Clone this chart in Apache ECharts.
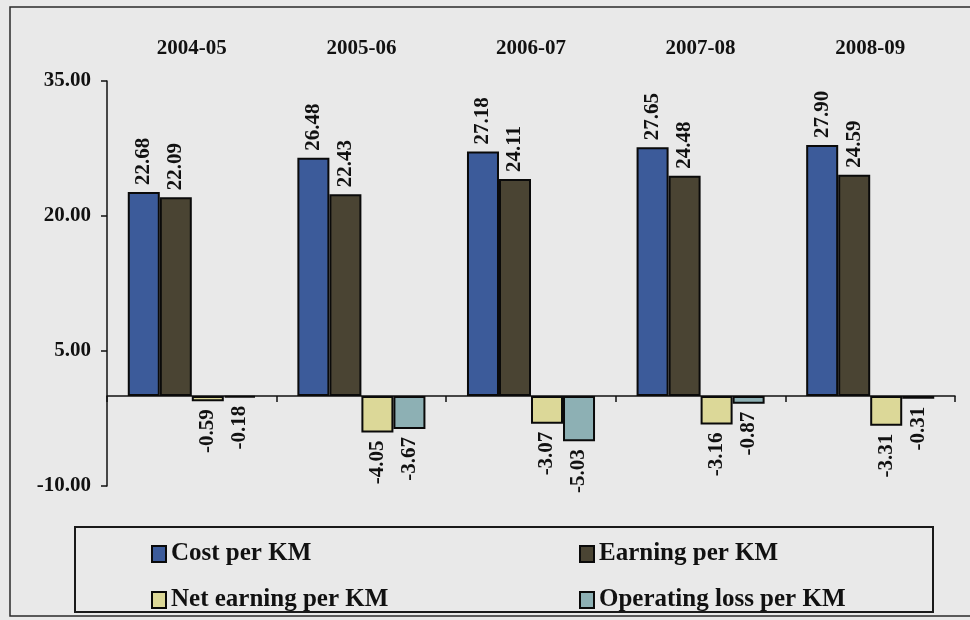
<!DOCTYPE html>
<html>
<head>
<meta charset="utf-8">
<title>Cost and earning per KM</title>
<script src="https://cdn.jsdelivr.net/npm/echarts@6/dist/echarts.min.js"></script>
<style>
  html, body { margin: 0; padding: 0; background: #e9e9e9; }
  #chart { width: 970px; height: 620px; }
</style>
</head>
<body>
<div id="chart"></div>
<script>
// Per-KM figures by financial year
const categories = ['2004-05', '2005-06', '2006-07', '2007-08', '2008-09'];
const costPerKm = [22.68, 26.48, 27.18, 27.65, 27.90];
const earningPerKm = [22.09, 22.43, 24.11, 24.48, 24.59];
const netEarningPerKm = [-0.59, -4.05, -3.07, -3.16, -3.31];
const operatingLossPerKm = [-0.18, -3.67, -5.03, -0.87, -0.31];
const yTicks = { min: -10, max: 35, interval: 15 };

const FONT = '"Liberation Serif", "Times New Roman", serif';
const INK = '#111';

const fmt = v => Number(v).toFixed(2);

// Value label drawn vertically: above positive bars, below negative bars
function valueLabel(positive) {
  return {
    show: true,
    position: positive ? 'top' : 'bottom',
    rotate: 90,
    align: positive ? 'left' : 'right',
    verticalAlign: 'middle',
    distance: positive ? 7 : 8,
    fontFamily: FONT,
    fontWeight: 'bold',
    fontSize: 21,
    color: INK,
    formatter: p => fmt(p.value)
  };
}

function barSeries(name, data, color, positive) {
  return {
    name: name,
    type: 'bar',
    xAxisIndex: 0,
    data: data,
    barGap: '0%',
    barCategoryGap: '24.5%',
    itemStyle: { color: color, borderColor: '#0a0a0a', borderWidth: 2 },
    label: valueLabel(positive),
    emphasis: { disabled: true }
  };
}

const chart = echarts.init(document.getElementById('chart'), null, { renderer: 'canvas' });

const legendText = { fontFamily: FONT, fontWeight: 'bold', fontSize: 25, color: INK, lineHeight: 26 };

chart.setOption({
  backgroundColor: '#e9e9e9',
  animation: false,
  grid: { left: 107, right: 15, top: 81, bottom: 134, containLabel: false },
  legend: [
    {
      data: ['Cost per KM', 'Net earning per KM'],
      orient: 'vertical', left: 146, top: 536, itemGap: 20,
      itemWidth: 14, itemHeight: 16, icon: 'rect',
      textStyle: legendText, selectedMode: false
    },
    {
      data: ['Earning per KM', 'Operating loss per KM'],
      orient: 'vertical', left: 574, top: 536, itemGap: 20,
      itemWidth: 14, itemHeight: 16, icon: 'rect',
      textStyle: legendText, selectedMode: false
    }
  ],
  xAxis: [
    {
      type: 'category',
      data: categories,
      position: 'bottom',
      axisLine: { onZero: true, lineStyle: { color: INK, width: 1.5 } },
      axisTick: { show: true, inside: false, length: 6, lineStyle: { color: INK, width: 1.5 } },
      axisLabel: { show: false },
      splitLine: { show: false }
    },
    {
      type: 'category',
      data: categories,
      position: 'top',
      axisLine: { show: false },
      axisTick: { show: false },
      axisLabel: {
        margin: 22,
        fontFamily: FONT, fontWeight: 'bold', fontSize: 21, color: INK
      },
      splitLine: { show: false }
    }
  ],
  yAxis: {
    type: 'value',
    min: yTicks.min,
    max: yTicks.max,
    interval: yTicks.interval,
    axisLine: { show: true, lineStyle: { color: INK, width: 1.5 } },
    axisTick: { show: true, length: 6, lineStyle: { color: INK, width: 1.5 } },
    axisLabel: {
      margin: 16,
      fontFamily: FONT, fontWeight: 'bold', fontSize: 21, color: INK,
      formatter: v => fmt(v)
    },
    splitLine: { show: false }
  },
  graphic: [
    {
      type: 'rect', silent: true, z: -1,
      shape: { x: 10, y: 7, width: 975, height: 609 },
      style: { fill: 'none', stroke: '#2a2a2a', lineWidth: 1.5 }
    },
    {
      type: 'rect', silent: true, z: -1,
      shape: { x: 75, y: 527, width: 858, height: 85 },
      style: { fill: 'none', stroke: '#1a1a1a', lineWidth: 2 }
    }
  ],
  series: [
    barSeries('Cost per KM', costPerKm, '#3c5b9a', true),
    barSeries('Earning per KM', earningPerKm, '#4a4433', true),
    barSeries('Net earning per KM', netEarningPerKm, '#dcd898', false),
    barSeries('Operating loss per KM', operatingLossPerKm, '#8db0b4', false)
  ]
});
</script>
</body>
</html>
